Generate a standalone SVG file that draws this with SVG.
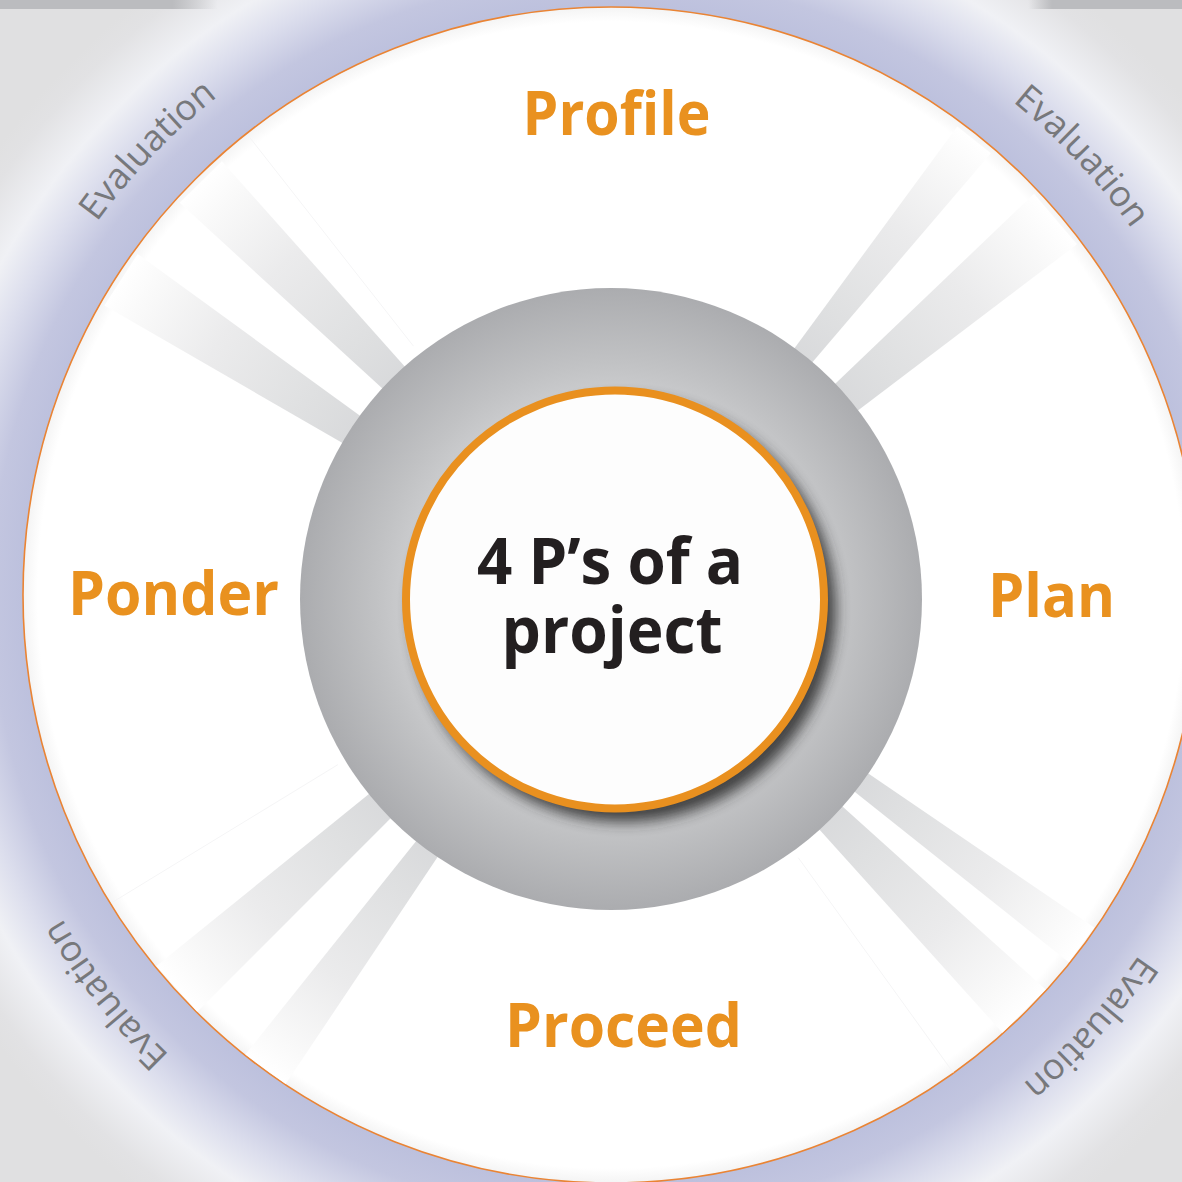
<svg xmlns="http://www.w3.org/2000/svg" xmlns:xlink="http://www.w3.org/1999/xlink" width="1182" height="1182" viewBox="0 0 1182 1182">
<defs>
<style>
.ptitle{font-family:"Open Sans","Liberation Sans",sans-serif;font-weight:700;font-size:61px;fill:#E9911F;text-anchor:middle}
.ctitle{font-family:"Open Sans","Liberation Sans",sans-serif;font-weight:700;font-size:65px;fill:#231F20;text-anchor:middle}
.evl{font-family:"Open Sans","Liberation Sans",sans-serif;font-size:36px;fill:#77787B;text-anchor:middle}
.beam{fill:url(#beamGrad)}
.faint{stroke:#f5f5f6;stroke-width:1;fill:none}
</style>
<radialGradient id="bgGrad" gradientUnits="userSpaceOnUse" cx="611" cy="596" r="760">
<stop offset="0.77" stop-color="#bcc0dd"/>
<stop offset="0.815" stop-color="#c3c6e0"/>
<stop offset="0.868" stop-color="#dcdeed"/>
<stop offset="0.914" stop-color="#f0f1f5"/>
<stop offset="0.972" stop-color="#e2e2e4"/>
<stop offset="1" stop-color="#e0e0e1"/>
</radialGradient>
<linearGradient id="stripGrad" x1="0" y1="0" x2="1182" y2="0" gradientUnits="userSpaceOnUse">
<stop offset="0" stop-color="#bbbcbf"/>
<stop offset="0.146" stop-color="#bbbcbf"/>
<stop offset="0.184" stop-color="#bbbcbf" stop-opacity="0"/>
<stop offset="0.87" stop-color="#bbbcbf" stop-opacity="0"/>
<stop offset="0.89" stop-color="#bbbcbf"/>
<stop offset="1" stop-color="#bbbcbf"/>
</linearGradient>
<radialGradient id="discGrad" gradientUnits="userSpaceOnUse" cx="611" cy="595" r="588">
<stop offset="0.975" stop-color="#ffffff"/>
<stop offset="1" stop-color="#f4f4f4"/>
</radialGradient>
<radialGradient id="beamGrad" gradientUnits="userSpaceOnUse" cx="611" cy="598" r="585">
<stop offset="0.5" stop-color="#d7d8da"/>
<stop offset="0.62" stop-color="#dfe0e1"/>
<stop offset="0.8" stop-color="#ebebec"/>
<stop offset="0.94" stop-color="#f9f9f9"/>
<stop offset="1" stop-color="#ffffff"/>
</radialGradient>
<radialGradient id="ringGrad" gradientUnits="userSpaceOnUse" cx="612" cy="599" r="311">
<stop offset="0.66" stop-color="#cbccce"/>
<stop offset="0.76" stop-color="#c1c2c4"/>
<stop offset="1" stop-color="#abacaf"/>
</radialGradient>
<filter id="shadow" x="-20%" y="-20%" width="140%" height="140%">
<feGaussianBlur stdDeviation="7"/>
</filter>
<path id="evalPath" d="M 1249 597 A 637 637 0 1 1 -25 597 A 637 637 0 1 1 1249 597"/>
</defs>

<g id="background">
<rect x="0" y="0" width="1182" height="1182" fill="#e0e0e1"/>
<circle cx="611" cy="596" r="760" fill="url(#bgGrad)"/>
<rect x="0" y="0" width="1182" height="9" fill="url(#stripGrad)"/>
<circle cx="611" cy="595" r="588" fill="url(#discGrad)" stroke="#EA8434" stroke-width="1.6"/>
</g>

<g id="rays">
<polygon class="beam" points="389.8,395.3 411.4,374.0 221.9,161.2 179.7,202.8"/>
<polygon class="beam" points="351.2,448 368.3,421.7 137.7,254.1 104.4,305.5"/>
<polygon class="beam" points="788.6,356.2 805.8,369.9 990.9,153.2 957.3,126.5"/>
<polygon class="beam" points="827.9,390.7 850.0,416.6 1077.0,244.3 1034.0,193.8"/>
<polygon class="beam" points="858.8,767.1 845.8,784.8 1068.8,962.2 1094.3,927.6"/>
<polygon class="beam" points="833.9,798.7 811.7,820.9 1002.4,1032.7 1045.7,989.4"/>
<polygon class="beam" points="398.9,810.1 377.9,786.8 156.4,966.1 197.3,1011.7"/>
<polygon class="beam" points="444.1,847.3 423.4,832.1 245.3,1054.5 285.6,1084.1"/>
<line class="faint" x1="413.5" y1="346.2" x2="249.9" y2="137.7"/>
<line class="faint" x1="337.8" y1="764.7" x2="111.6" y2="902.8"/>
<line class="faint" x1="798.2" y1="857.6" x2="953.2" y2="1072.5"/>
</g>

<g id="ring">
<circle cx="611" cy="599" r="311" fill="url(#ringGrad)"/>
</g>

<g id="center-node">
<circle cx="624" cy="610" r="212" fill="#2a2a2c" opacity="0.85" filter="url(#shadow)"/>
<circle cx="615" cy="599.5" r="209" fill="#fdfdfd" stroke="#E9901F" stroke-width="8"/>
<text class="ctitle" x="610" y="584" textLength="266" lengthAdjust="spacingAndGlyphs">4 P’s of a</text>
<text class="ctitle" x="612" y="653" textLength="221" lengthAdjust="spacingAndGlyphs">project</text>
</g>

<g id="node-profile"><text class="ptitle" x="616.5" y="135" textLength="188" lengthAdjust="spacingAndGlyphs">Profile</text></g>
<g id="node-plan"><text class="ptitle" x="1051.5" y="617" textLength="127" lengthAdjust="spacingAndGlyphs">Plan</text></g>
<g id="node-proceed"><text class="ptitle" x="623.5" y="1047" textLength="237" lengthAdjust="spacingAndGlyphs">Proceed</text></g>
<g id="node-ponder"><text class="ptitle" x="173.5" y="615" textLength="211" lengthAdjust="spacingAndGlyphs">Ponder</text></g>

<g id="evaluation-labels">
<text class="evl"><textPath xlink:href="#evalPath" href="#evalPath" startOffset="467">Evaluation</textPath></text>
<text class="evl"><textPath xlink:href="#evalPath" href="#evalPath" startOffset="1577">Evaluation</textPath></text>
<text class="evl"><textPath xlink:href="#evalPath" href="#evalPath" startOffset="2489">Evaluation</textPath></text>
<text class="evl"><textPath xlink:href="#evalPath" href="#evalPath" startOffset="3522">Evaluation</textPath></text>
</g>
</svg>
